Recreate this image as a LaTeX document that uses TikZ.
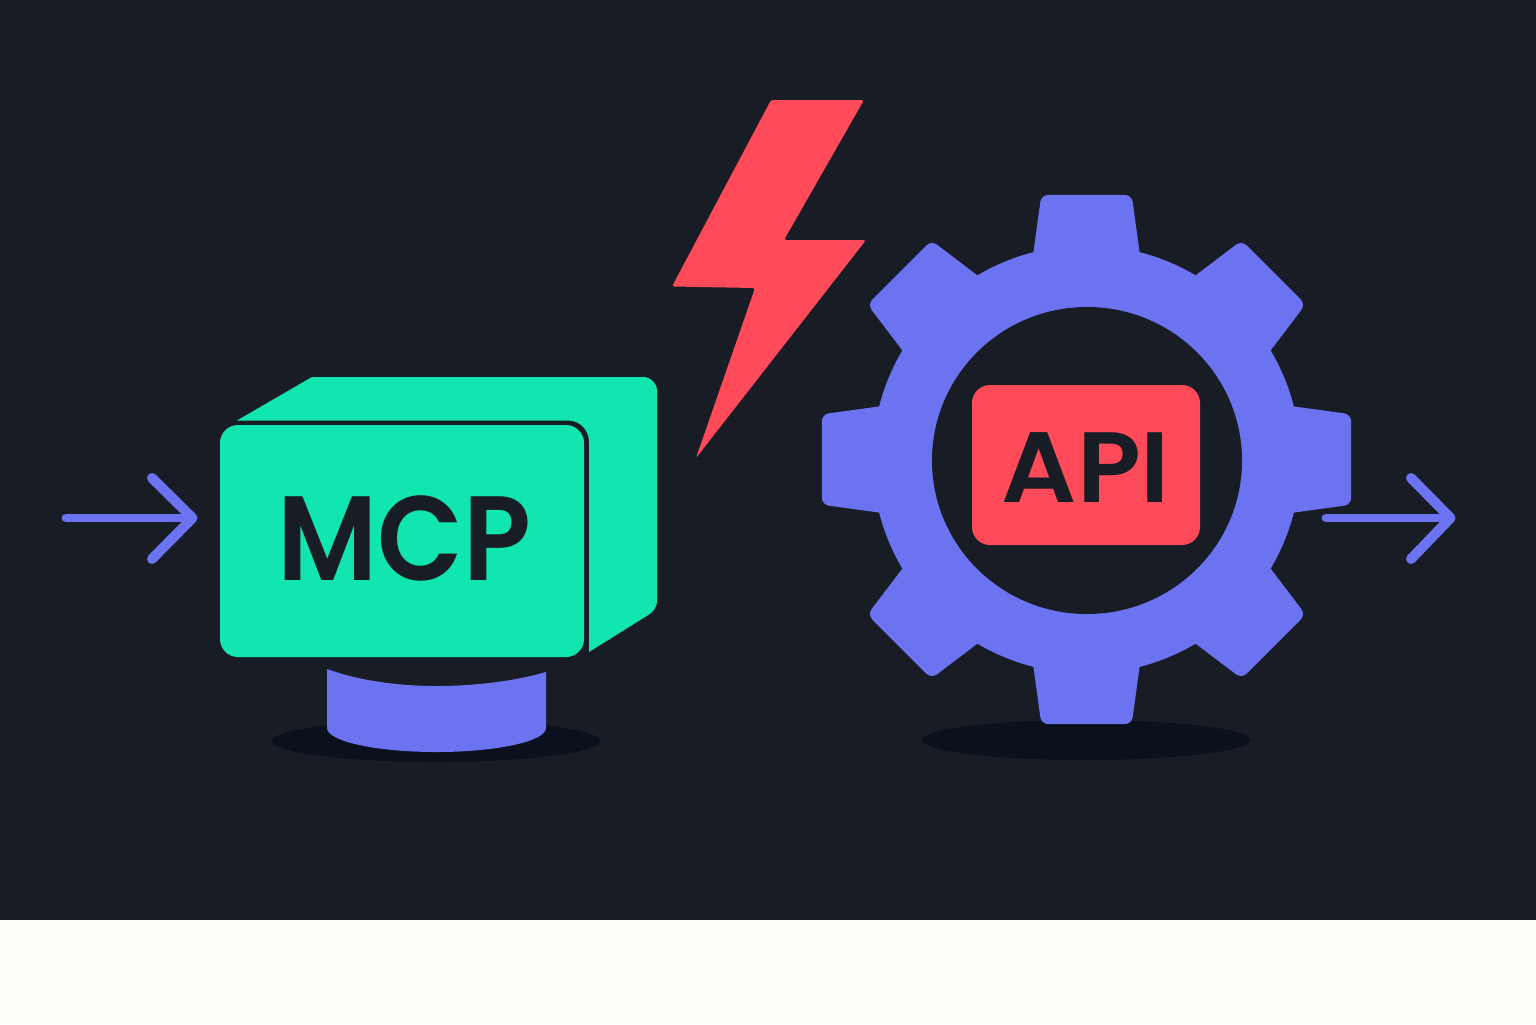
\documentclass[tikz,border=0pt]{standalone}
\usepackage{fontspec}
\setmainfont{Poppins}
\newfontfamily\logofont{Poppins SemiBold}
\definecolor{night}{HTML}{181C25}
\definecolor{paper}{HTML}{FEFDFA}
\definecolor{mint}{HTML}{12E6B0}
\definecolor{violet}{HTML}{6B73F0}
\definecolor{coral}{HTML}{FF4B59}
\definecolor{pit}{HTML}{0A111C}
\tikzset{
  px/.style={x=0.5pt,y=-0.5pt},
  facebox/.style={rounded corners=9pt,inner sep=0pt,outer sep=0pt},
  logotext/.style={text=night,inner sep=0pt,anchor=center},
  flowline/.style={draw=violet,line cap=round,line join=round},
  tooth/.style={fill=violet,rounded corners=3.5pt},
}
\begin{document}
\begin{tikzpicture}[px]
  \useasboundingbox (0,0) rectangle (1536,1024);
  \fill[paper] (0,0) rectangle (1536,1024);
  \fill[night] (0,0) rectangle (1536,920);

  % Ground shadows
  \fill[pit] (436,741) ellipse [x radius=164,y radius=21];
  \fill[pit] (1086,740) ellipse [x radius=164,y radius=20];

  % Cylindrical stand under the box
  \fill[violet] (327,669) .. controls (360,681) and (400,686) .. (436,686)
    .. controls (475,686) and (515,681) .. (546,672)
    -- (546,728) arc [start angle=0,end angle=180,x radius=109.5,y radius=24] -- cycle;

  % Box: body behind, then the front face with its label
  \fill[mint] (237,420.5) -- (312,377) -- (643,377)
    .. controls (651,377) and (657,383) .. (657,391) -- (657,600)
    .. controls (657,609) and (652,613) .. (645,617)
    -- (589,652) -- (589,442) .. controls (589,430) and (580,420.5) .. (568,420.5) -- cycle;
  \node[facebox,fill=mint,minimum width=182pt,minimum height=116pt] (mcpface) at (402,541) {};
  \node[logotext,font=\logofont\fontsize{60}{60}\selectfont] (mcplabel) at (404.5,538.5) {\scalebox{0.93}[1]{MCP}};

  % Lightning bolt
  \fill[coral,rounded corners=1.2pt] (771,100) -- (864,100) -- (784,240) -- (866,240)
    -- (696,458) -- (755,288) -- (672,286.5) -- cycle;

  % Gear: teeth, rim, hole
  \begin{scope}[shift={(1086.5,459.5)}]
    \foreach \a in {0,45,...,315}
      \fill[tooth] (\a-16:200) -- (\a-9.7:268.5) -- (\a+9.7:268.5) -- (\a+16:200) -- cycle;
    \fill[violet] (0,0) circle [radius=214];
  \end{scope}
  \fill[night] (1087,460.5) ellipse [x radius=155,y radius=153.5];
  \node[facebox,fill=coral,minimum width=114pt,minimum height=80pt] (apiface) at (1086,465) {};
  \node[logotext,font=\logofont\fontsize{50}{50}\selectfont] (apilabel) at (1086,468) {\scalebox{1.05}[1]{API}};

  % Flow arrows
  \coordinate (intail) at (66,518);
  \coordinate (intip) at (192.5,518);
  \coordinate (inup) at (152,478);
  \coordinate (indown) at (152,559);
  \draw[flowline,line width=4.4pt] (intail) -- (intip);
  \draw[flowline,line width=5pt] (inup) -- (intip) -- (indown);

  \coordinate (outtail) at (1326,518);
  \coordinate (outtip) at (1450.5,518);
  \coordinate (outup) at (1411,478);
  \coordinate (outdown) at (1411,559);
  \draw[flowline,line width=4.4pt] (outtail) -- (outtip);
  \draw[flowline,line width=5pt] (outup) -- (outtip) -- (outdown);
\end{tikzpicture}
\end{document}
